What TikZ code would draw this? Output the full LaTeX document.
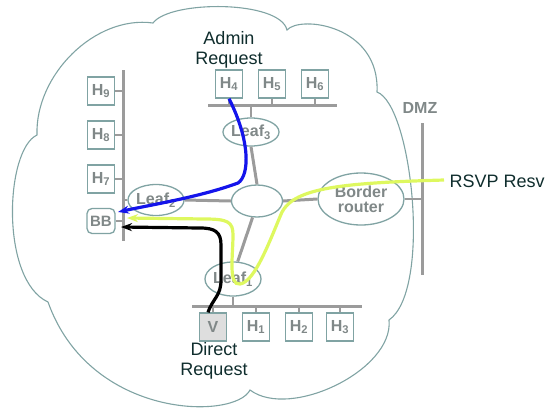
\documentclass[tikz,border=0pt]{standalone}
\usepackage{fontspec}
\setmainfont{Liberation Sans}
\usetikzlibrary{shapes.geometric,arrows.meta,calc}
\definecolor{edgeC}{RGB}{128,163,163}
\definecolor{busC}{RGB}{155,155,155}
\definecolor{lblC}{RGB}{128,136,136}
\definecolor{inkC}{RGB}{15,45,45}
\definecolor{vfillC}{RGB}{222,222,222}
\definecolor{rsvpC}{RGB}{222,248,95}
\definecolor{adminC}{RGB}{20,20,235}
\tikzset{
  cloudS/.style ={draw=edgeC, line width=1.1pt},
  busS/.style   ={busC, line width=3pt},
  stubS/.style  ={busC, line width=2pt},
  linkS/.style  ={busC, line width=3pt},
  hostS/.style  ={draw=edgeC, line width=1.3pt, fill=white, minimum width=27pt, minimum height=28pt,
                  inner sep=0pt, text=lblC, font=\fontsize{16}{16}\selectfont\bfseries},
  bbS/.style    ={hostS, rounded corners=5pt, minimum width=28pt, minimum height=25pt,
                  font=\fontsize{15}{15}\selectfont\bfseries},
  leafS/.style  ={ellipse, draw=edgeC, line width=1.3pt, fill=white, inner sep=0pt, text=lblC,
                  align=center, font=\fontsize{16}{16}\selectfont\bfseries},
  inkS/.style   ={text=inkC, align=center, font=\fontsize{18}{20}\selectfont},
  reqS/.style   ={line width=3.2pt, -{Stealth[length=11pt,width=8pt]}},
}

\begin{document}
\begin{tikzpicture}[x=1pt,y=-1pt]
  \useasboundingbox (0,0) rectangle (548,413);
  \draw[cloudS] (37,135) .. controls (35,75) and (95,15) .. (153,23)
    .. controls (170,0) and (280,0) .. (287,30)
    .. controls (300,15) and (380,25) .. (377,92)
    .. controls (412,105) and (432,290) .. (389,320)
    .. controls (394,370) and (290,420) .. (250,390)
    .. controls (235,420) and (90,420) .. (48,302)
    .. controls (0,280) and (5,150) .. cycle;
  \coordinate (busL1) at (123,70);  \coordinate (busL2) at (123,241);
  \coordinate (busT1) at (208,105); \coordinate (busT2) at (337,105);
  \coordinate (busB1) at (192,306); \coordinate (busB2) at (362,306);
  \coordinate (dmz1) at (422,123);  \coordinate (dmz2) at (422,275);
  \draw[busS] (busL1) -- (busL2);
  \draw[busS] (busT1) -- (busT2);
  \draw[busS] (busB1) -- (busB2);
  \draw[busS] (dmz1) -- (dmz2);
  \node[text=lblC, font=\fontsize{16}{16}\selectfont\bfseries] (dmz) at (420,108) {DMZ};
  \node[hostS] (h9) at (101,91)  {H\textsubscript{9}};
  \node[hostS] (h8) at (101,135) {H\textsubscript{8}};
  \node[hostS] (h7) at (101,179) {H\textsubscript{7}};
  \node[bbS]   (bb) at (101,221) {BB};
  \node[hostS] (h4) at (229,84)  {H\textsubscript{4}};
  \node[hostS] (h5) at (272,84)  {H\textsubscript{5}};
  \node[hostS] (h6) at (315,84)  {H\textsubscript{6}};
  \node[hostS, fill=vfillC] (v) at (213,327) {V};
  \node[hostS] (h1) at (256,327) {H\textsubscript{1}};
  \node[hostS] (h2) at (299,327) {H\textsubscript{2}};
  \node[hostS] (h3) at (340,327) {H\textsubscript{3}};
  \foreach \n in {h9,h8,h7,bb}{\draw[stubS] (\n.east) -- (\n.east -| busL1);}
  \foreach \n in {h4,h5,h6}{\draw[stubS] (\n.south) -- (\n.south |- busT1);}
  \foreach \n in {v,h1,h2,h3}{\draw[stubS] (\n.north) -- (\n.north |- busB1);}
  \node[leafS, minimum width=48pt, minimum height=28pt] (leaf3) at (251,132) {Leaf\textsubscript{3}};
  \node[leafS, minimum width=50pt, minimum height=31pt] (leaf2) at (156,200) {Leaf\textsubscript{2}};
  \node[leafS, minimum width=53pt, minimum height=34pt] (leaf1) at (233,279) {Leaf\textsubscript{1}};
  \node[leafS, minimum width=51pt, minimum height=32pt] (core)  at (257,201) {};
  \node[leafS, minimum width=86pt, minimum height=52pt, font=\fontsize{16}{15}\selectfont\bfseries]
    (border) at (361,199) {Border\\router};
  \draw[stubS] (leaf3.north) -- (leaf3.north |- busT1);
  \draw[stubS] (leaf1.south) -- (leaf1.south |- busB1);
  \draw[stubS] (leaf2.west) -- (leaf2.west -| busL1);
  \draw[linkS] (leaf3.south) -- (core.north);
  \draw[linkS] (leaf2.east) -- (core.west);
  \draw[linkS] (core.east) -- (border.west);
  \draw[linkS] (leaf1.75) -- (core.255);
  \draw[stubS, line width=2.5pt] (border.east) -- (border.east -| dmz1);
  \node[inkS] (admin)  at (229,50)  {Admin\\Request};
  \node[inkS] (direct) at (214,361) {Direct\\Request};
  \node[inkS, anchor=west] (rsvp) at (446,181) {RSVP Resv};
  \coordinate (tipA) at (118,212);
  \coordinate (tipB) at (127,218);
  \coordinate (tipC) at (121,227);
  \coordinate (rsvpEnd) at (444,180);
  \draw[reqS, rsvpC] (rsvpEnd) .. controls (340,183) and (295,188) .. (282,212)
    .. controls (270,240) and (255,282) .. (240,284)
    .. controls (228,286) and (233,255) .. (233,235)
    .. controls (233,222) and (228,219) .. (205,219) -- (tipB);
  \draw[reqS, adminC] (h4.south) .. controls (250,140) and (250,175) .. (238,183)
    .. controls (200,197) and (150,205) .. (tipA);
  \draw[reqS, black] ($(v.north)+(-5,0)$) .. controls (213,298) and (221,296) .. (221,280) -- (221,245)
    .. controls (221,232) and (215,228) .. (200,228) -- (tipC);
\end{tikzpicture}
\end{document}
